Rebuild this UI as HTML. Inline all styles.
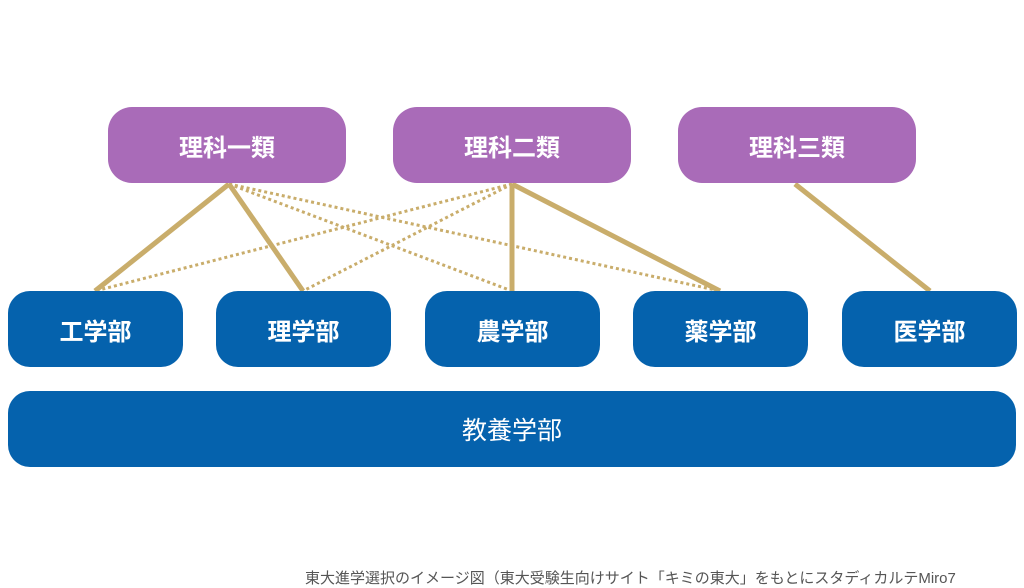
<!DOCTYPE html>
<html><head><meta charset="utf-8"><style>
body{margin:0;width:1024px;height:578px;background:#fff;position:relative;overflow:hidden;font-family:"Liberation Sans","Noto Sans CJK JP",sans-serif}
.b{position:absolute;color:#fff;display:flex;align-items:center;justify-content:center;font-weight:bold;font-size:24px}
.p{background:#a96bb8;border-radius:24px;height:76px;top:107px;width:238px}
.u{background:#0562ad;border-radius:22px;height:76px;top:291px;width:175px}
svg{position:absolute;left:0;top:0}
</style></head><body>
<svg width="1024" height="578">
<g stroke="#c9ad6b" fill="none">
<g stroke-width="3" stroke-dasharray="3 3">
<line x1="229" y1="184" x2="512" y2="291"/>
<line x1="229" y1="184" x2="720" y2="291"/>
<line x1="512" y1="184" x2="95" y2="291"/>
<line x1="512" y1="184" x2="303" y2="291"/>
</g>
<g stroke-width="5">
<line x1="229" y1="184" x2="95" y2="291"/>
<line x1="229" y1="184" x2="303" y2="291"/>
<line x1="512" y1="184" x2="512" y2="291"/>
<line x1="512" y1="184" x2="720" y2="291"/>
<line x1="795" y1="184" x2="930" y2="291"/>
</g></g></svg>
<div class="b p" style="left:108px">理科一類</div>
<div class="b p" style="left:393px">理科二類</div>
<div class="b p" style="left:678px">理科三類</div>
<div class="b u" style="left:8px">工学部</div>
<div class="b u" style="left:216px">理学部</div>
<div class="b u" style="left:425px">農学部</div>
<div class="b u" style="left:633px">薬学部</div>
<div class="b u" style="left:842px">医学部</div>
<div class="b" style="left:8px;top:391px;width:1008px;height:76px;background:#0562ad;border-radius:22px;font-weight:normal;font-size:25px">教養学部</div>
<div style="position:absolute;left:305px;top:567px;font-size:15px;color:#555;white-space:nowrap">東大進学選択のイメージ図（東大受験生向けサイト「キミの東大」をもとにスタディカルテMiro7</div>
</body></html>
